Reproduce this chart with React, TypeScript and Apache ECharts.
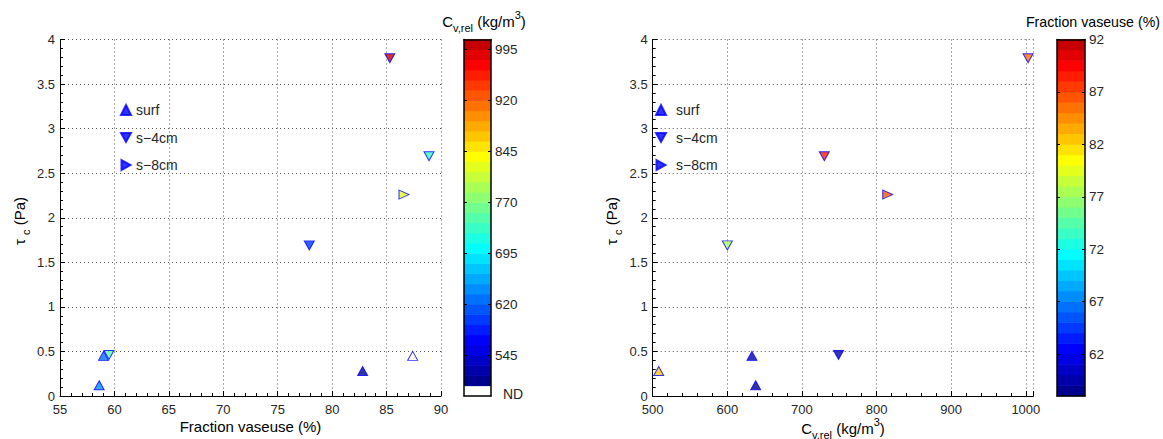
import React, { useEffect, useRef } from "react";
import * as echarts from "echarts";

// ---- data ----
const surfFraction = [58.6, 59.0, 82.8, 87.4];
const surfCv: (number | null)[] = [638, 633, 508, null];
const surfTau = [0.12, 0.45, 0.28, 0.45];

const s4Fraction = [59.5, 77.9, 85.3, 88.9];
const s4Cv: (number | null)[] = [749, 600, 1003, 730];
const s4Tau = [0.46, 1.69, 3.79, 2.69];

const s8Fraction = [86.6];
const s8Cv: (number | null)[] = [815];
const s8Tau = [2.26];

const cvBarTicks = [545, 620, 695, 770, 845, 920, 995];
const fracBarTicks = [62, 67, 72, 77, 82, 87, 92];

const CV_MIN = 500;
const CV_STEP = 15;
const CV_ND_MIN = 485;
const FR_MIN = 58;
const FR_STEP = 1;
const NCOL = 34;

const FONT = "'Liberation Sans', Arial, Helvetica, sans-serif";
const TXT = "#262626";

function jet(m: number): string[] {
  const n = Math.ceil(m / 4);
  const u: number[] = [];
  for (let i = 1; i <= n; i++) u.push(i / n);
  for (let i = 1; i < n; i++) u.push(1);
  for (let i = n; i >= 1; i--) u.push(i / n);
  const gOff = Math.ceil(n / 2) - (m % 4 === 1 ? 1 : 0);
  const J = Array.from({ length: m }, () => [0, 0, 0]);
  u.forEach((val, k) => {
    const g = gOff + k + 1;
    const r = g + n;
    const b = g - n;
    if (g >= 1 && g <= m) J[g - 1][1] = val;
    if (r >= 1 && r <= m) J[r - 1][0] = val;
    if (b >= 1 && b <= m) J[b - 1][2] = val;
  });
  return J.map(
    ([r, g, b]) =>
      `rgb(${Math.round(r * 255)},${Math.round(g * 255)},${Math.round(b * 255)})`
  );
}
const CMAP = jet(NCOL);
const idxOf = (v: number, min: number, step: number) =>
  Math.max(0, Math.min(NCOL - 1, Math.floor((v - min) / step)));
const cvColor = (v: number | null) => (v == null ? "#ffffff" : CMAP[idxOf(v, CV_MIN, CV_STEP)]);
const frColor = (v: number) => CMAP[idxOf(v, FR_MIN, FR_STEP)];

const SYM_UP = "triangle";
const SYM_DOWN = "path://M0,0L20,0L10,18Z";
const SYM_RIGHT = "path://M0,0L18,10L0,20Z";

const groups = [
  { name: "surf", sym: SYM_UP, frac: surfFraction, cv: surfCv, tau: surfTau },
  { name: "s\u22124cm", sym: SYM_DOWN, frac: s4Fraction, cv: s4Cv, tau: s4Tau },
  { name: "s\u22128cm", sym: SYM_RIGHT, frac: s8Fraction, cv: s8Cv, tau: s8Tau },
];

const cvBands: number[][] = [];
for (let i = 0; i < NCOL; i++) cvBands.push([CV_MIN + i * CV_STEP, CV_MIN + (i + 1) * CV_STEP]);
const frBands: number[][] = [];
for (let i = 0; i < NCOL; i++) frBands.push([FR_MIN + i * FR_STEP, FR_MIN + (i + 1) * FR_STEP]);

const dotted = { color: "#555", width: 1, type: [1, 3] as any };

function mainXAxis(gridIndex: number, min: number, max: number, interval: number) {
  return {
    type: "value", gridIndex, min, max, interval,
    axisLine: { show: true, onZero: false, lineStyle: { color: "#000", width: 1 } },
    axisTick: { show: true, inside: true, length: 5, lineStyle: { color: "#000" } },
    minorTick: { show: true, splitNumber: 5, length: 3, lineStyle: { color: "#000" } },
    splitLine: { show: true, lineStyle: dotted },
    axisLabel: {
      color: TXT, fontSize: 13, fontFamily: FONT, margin: 7,
      formatter: (v: number) => String(v),
    },
  };
}
function mainYAxis(gridIndex: number) {
  return {
    type: "value", gridIndex, min: 0, max: 4, interval: 0.5,
    axisLine: { show: true, onZero: false, lineStyle: { color: "#000", width: 1 } },
    axisTick: { show: true, inside: true, length: 5, lineStyle: { color: "#000" } },
    minorTick: { show: true, splitNumber: 5, length: 3, lineStyle: { color: "#000" } },
    splitLine: { show: true, lineStyle: dotted },
    axisLabel: { color: TXT, fontSize: 13, fontFamily: FONT, margin: 5 },
  };
}
function frameX(gridIndex: number, position: string) {
  return {
    type: "value", gridIndex, min: 0, max: 1, position, z: 10,
    axisLine: { show: true, onZero: false, lineStyle: { color: "#000", width: 1.5 } },
    axisTick: { show: false }, axisLabel: { show: false }, splitLine: { show: false },
  };
}
function frameY(gridIndex: number, position: string, min: number, max: number, ticks: number[], labels: boolean) {
  return {
    type: "value", gridIndex, min, max, position, z: 10,
    axisLine: { show: true, onZero: false, lineStyle: { color: "#000", width: 1.5 } },
    axisTick: { show: true, inside: true, length: 3, customValues: ticks, lineStyle: { color: "#000" } },
    axisLabel: labels
      ? { show: true, customValues: ticks, color: TXT, fontSize: 13.5, fontFamily: FONT, margin: 4 }
      : { show: false },
    splitLine: { show: false },
  };
}

function bandSeries(bands: number[][], colors: string[], xi: number, yi: number) {
  return {
    type: "custom", xAxisIndex: xi, yAxisIndex: yi, z: 1, silent: true,
    data: bands,
    renderItem: (params: any, api: any) => {
      const lo = api.value(0);
      const hi = api.value(1);
      const p1 = api.coord([0, hi]);
      const p2 = api.coord([1, lo]);
      return {
        type: "rect",
        shape: { x: p1[0], y: p1[1] - 0.3, width: p2[0] - p1[0], height: p2[1] - p1[1] + 0.6 },
        style: { fill: colors[params.dataIndex], stroke: null },
      };
    },
  };
}

const richBase = {
  n: { fontSize: 15, fontFamily: FONT, color: TXT, lineHeight: 24, verticalAlign: "middle" },
  sub: { fontSize: 11, fontFamily: FONT, color: TXT, verticalAlign: "bottom", lineHeight: 24 },
  sup: { fontSize: 11, fontFamily: FONT, color: TXT, verticalAlign: "top", lineHeight: 24 },
};
const richSmall = {
  n: { ...richBase.n, fontSize: 14.2 },
};

function txt(x: number, y: number, text: string, extra: any = {}, rich: any = richBase) {
  const { style: extraStyle, ...rest } = extra;
  return {
    type: "text", x, y, silent: true, ...rest,
    style: { text, rich, align: "center", verticalAlign: "middle", ...(extraStyle || {}) },
  };
}

export default function App() {
  const ref = useRef<HTMLDivElement>(null);
  useEffect(() => {
    if (!ref.current) return;
    const chart = echarts.init(ref.current, undefined, { renderer: "svg" });

    const leftSeries = groups.map((g) => ({
      type: "scatter", name: g.name, xAxisIndex: 0, yAxisIndex: 0,
      symbol: g.sym, symbolSize: [10, 9],
      itemStyle: { color: "#0000ff", borderColor: "#0000ff", borderWidth: 1 },
      data: g.frac.map((f, i) => ({ value: [f, g.tau[i]], itemStyle: { color: cvColor(g.cv[i]) } })),
    }));
    const rightSeries = groups.map((g) => ({
      type: "scatter", name: g.name, xAxisIndex: 3, yAxisIndex: 3,
      symbol: g.sym, symbolSize: [10, 9],
      itemStyle: { color: "#0000ff", borderColor: "#0000ff", borderWidth: 1 },
      data: g.frac
        .map((f, i) => ({ f, c: g.cv[i], t: g.tau[i] }))
        .filter((d) => d.c != null)
        .map((d) => ({ value: [d.c as number, d.t], itemStyle: { color: frColor(d.f) } })),
    }));

    const legendCommon = {
      orient: "vertical", itemWidth: 10, itemHeight: 10, itemGap: 13.5, padding: 0,
      selectedMode: false,
      textStyle: { fontSize: 14, fontFamily: FONT, color: TXT },
      data: groups.map((g) => ({ name: g.name, icon: g.sym })),
    };

    chart.setOption({
      animation: false,
      backgroundColor: "#ffffff",
      grid: [
        { left: 60, top: 39.5, width: 381, height: 356.5 },
        { left: 464, top: 39.5, width: 27, height: 356.5 },
        { left: 652.7, top: 39.5, width: 380.6, height: 356.5 },
        { left: 1057, top: 39.5, width: 28, height: 356.5 },
      ],
      xAxis: [
        mainXAxis(0, 55, 90, 5),
        frameX(1, "bottom"),
        frameX(1, "top"),
        mainXAxis(2, 500, 1010, 100),
        frameX(3, "bottom"),
        frameX(3, "top"),
      ],
      yAxis: [
        mainYAxis(0),
        frameY(1, "right", CV_ND_MIN, CV_MIN + NCOL * CV_STEP, cvBarTicks, true),
        frameY(1, "left", CV_ND_MIN, CV_MIN + NCOL * CV_STEP, cvBarTicks, false),
        mainYAxis(2),
        frameY(3, "right", FR_MIN, FR_MIN + NCOL * FR_STEP, fracBarTicks, true),
        frameY(3, "left", FR_MIN, FR_MIN + NCOL * FR_STEP, fracBarTicks, false),
      ],
      legend: [
        { ...legendCommon, left: 120, top: 103 },
        {
          ...legendCommon, left: 655, top: 103,
          textStyle: { ...legendCommon.textStyle, padding: [0, 0, 0, 5] },
        },
      ],
      series: [
        ...leftSeries,
        ...rightSeries,
        bandSeries([[CV_ND_MIN, CV_MIN], ...cvBands], ["#ffffff", ...CMAP], 1, 1),
        bandSeries(frBands, CMAP, 4, 4),
      ],
      graphic: [
        txt(250.5, 426, "{n|Fraction vaseuse (%)}"),
        txt(19, 221, "{n|\u03c4 }{sub|c}{n| (Pa)}", { rotation: Math.PI / 2 }),
        txt(843, 428, "{n|C}{sub|v,rel}{n| (kg/m}{sup|3}{n|)}"),
        txt(611, 221, "{n|\u03c4 }{sub|c}{n| (Pa)}", { rotation: Math.PI / 2 }),
        txt(484, 21, "{n|C}{sub|v,rel}{n| (kg/m}{sup|3}{n|)}"),
        txt(1160, 22, "{n|Fraction vaseuse (%)}", { style: { align: "right" } }, richSmall),
        {
          type: "text", x: 503, y: 394, silent: true,
          style: { text: "ND", fontSize: 14, fontFamily: FONT, fill: TXT, align: "left", verticalAlign: "middle" },
        },
      ],
    });
    return () => chart.dispose();
  }, []);
  return (
    <div
      ref={ref}
      style={{ position: "fixed", left: 0, top: 0, width: 1163, height: 439, background: "#fff" }}
    />
  );
}
